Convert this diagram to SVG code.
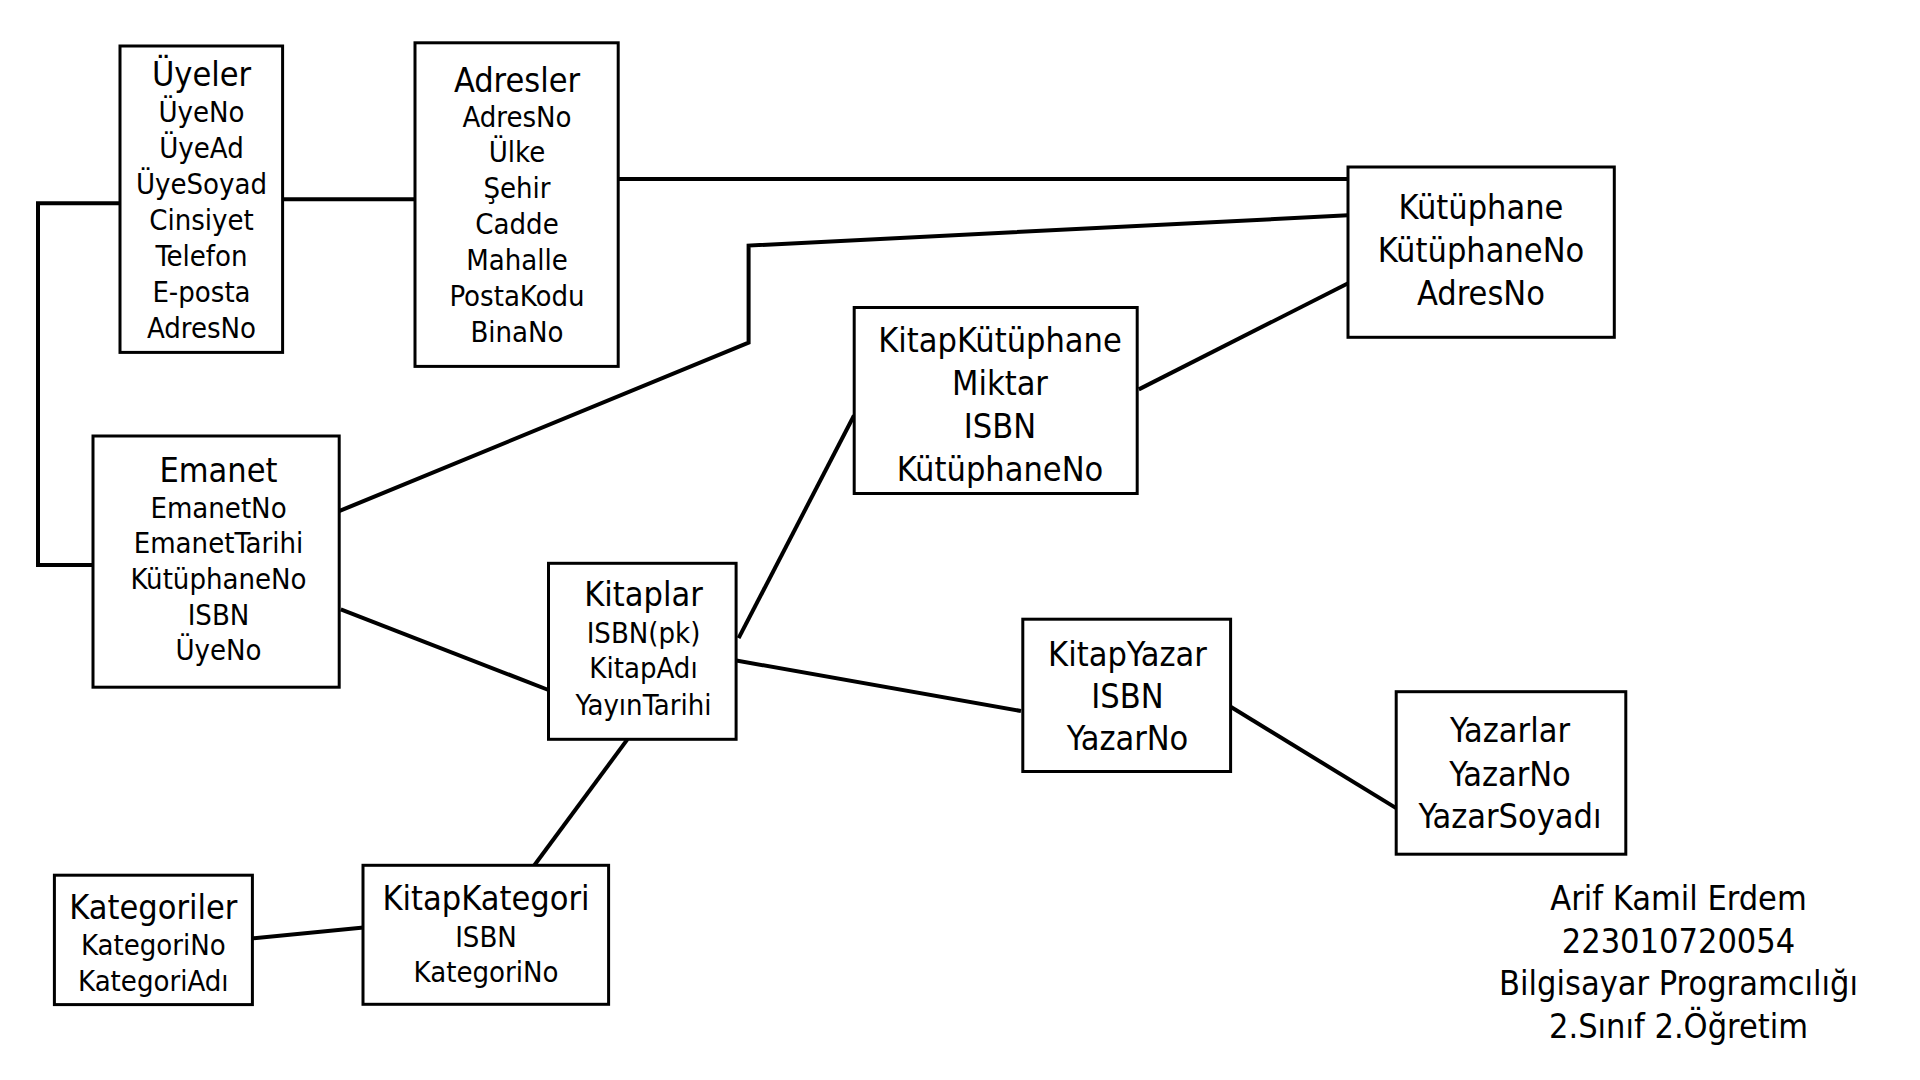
<svg xmlns="http://www.w3.org/2000/svg" width="1920" height="1080" viewBox="0 0 1920 1080">
<style>
  .box { fill: #ffffff; stroke: #000000; stroke-width: 3; }
  .conn { fill: none; stroke: #000000; stroke-width: 4; stroke-linejoin: miter; }
  text { font-family: "DejaVu Sans Condensed", "DejaVu Sans", sans-serif; font-stretch: condensed; fill: #000000; text-anchor: middle; }
  .t { font-size: 34px; }
  .a { font-size: 29px; }
</style>
<rect x="0" y="0" width="1920" height="1080" fill="#ffffff"/>
<g id="connectors">
  <polyline class="conn" points="119.6,203.3 38,203.3 38,565 93,565"/>
  <line class="conn" x1="282.6" y1="199.3" x2="415" y2="199.3"/>
  <line class="conn" x1="618" y1="179" x2="1348" y2="179"/>
  <polyline class="conn" points="337.8,511.7 748.6,342.7 748.6,245.6 1348,215.3"/>
  <line class="conn" x1="1138.8" y1="389.4" x2="1350.6" y2="282"/>
  <line class="conn" x1="340.8" y1="609.3" x2="548.5" y2="690"/>
  <line class="conn" x1="738.6" y1="638.2" x2="854" y2="415.5"/>
  <line class="conn" x1="733.5" y1="660" x2="1021" y2="711"/>
  <line class="conn" x1="1230.6" y1="706.8" x2="1396.2" y2="808.1"/>
  <line class="conn" x1="627.4" y1="739.4" x2="534" y2="865.7"/>
  <line class="conn" x1="251" y1="938.6" x2="366.2" y2="927.2"/>
</g>
<g id="uyeler">
  <rect class="box" x="120" y="46" width="162.6" height="306.4"/>
  <text class="t" x="201.5" y="86">Üyeler</text>
  <text class="a" x="201.5" y="122.3">ÜyeNo</text>
  <text class="a" x="201.5" y="157.7">ÜyeAd</text>
  <text class="a" x="201.5" y="194">ÜyeSoyad</text>
  <text class="a" x="201.5" y="230">Cinsiyet</text>
  <text class="a" x="201.5" y="266">Telefon</text>
  <text class="a" x="201.5" y="302">E-posta</text>
  <text class="a" x="201.5" y="337.7">AdresNo</text>
</g>
<g id="adresler">
  <rect class="box" x="415" y="42.8" width="203.2" height="323.6"/>
  <text class="t" x="517" y="91.7">Adresler</text>
  <text class="a" x="517" y="126.7">AdresNo</text>
  <text class="a" x="517" y="162.3">Ülke</text>
  <text class="a" x="517" y="198.3">Şehir</text>
  <text class="a" x="517" y="234.3">Cadde</text>
  <text class="a" x="517" y="270">Mahalle</text>
  <text class="a" x="517" y="306">PostaKodu</text>
  <text class="a" x="517" y="342.3">BinaNo</text>
</g>
<g id="kutuphane">
  <rect class="box" x="1348" y="167" width="266.3" height="170.3"/>
  <text class="t" x="1481" y="219.4">Kütüphane</text>
  <text class="t" x="1481" y="262.4">KütüphaneNo</text>
  <text class="t" x="1481" y="304.8">AdresNo</text>
</g>
<g id="kitapkutuphane">
  <rect class="box" x="854.2" y="307.5" width="283" height="186"/>
  <text class="t" x="1000" y="352">KitapKütüphane</text>
  <text class="t" x="1000" y="395">Miktar</text>
  <text class="t" x="1000" y="438">ISBN</text>
  <text class="t" x="1000" y="481">KütüphaneNo</text>
</g>
<g id="emanet">
  <rect class="box" x="93" y="436" width="246.2" height="251.2"/>
  <text class="t" x="218.5" y="482.3">Emanet</text>
  <text class="a" x="218.5" y="517.7">EmanetNo</text>
  <text class="a" x="218.5" y="553.3">EmanetTarihi</text>
  <text class="a" x="218.5" y="589.3">KütüphaneNo</text>
  <text class="a" x="218.5" y="625">ISBN</text>
  <text class="a" x="218.5" y="660">ÜyeNo</text>
</g>
<g id="kitaplar">
  <rect class="box" x="548.5" y="563.3" width="187.6" height="176"/>
  <text class="t" x="643.5" y="606">Kitaplar</text>
  <text class="a" x="643.5" y="642.7">ISBN(pk)</text>
  <text class="a" x="643.5" y="678.3">KitapAdı</text>
  <text class="a" x="643.5" y="715">YayınTarihi</text>
</g>
<g id="kitapyazar">
  <rect class="box" x="1022.8" y="619.2" width="207.8" height="152.3"/>
  <text class="t" x="1127.5" y="665.5">KitapYazar</text>
  <text class="t" x="1127.5" y="707.6">ISBN</text>
  <text class="t" x="1127.5" y="750">YazarNo</text>
</g>
<g id="yazarlar">
  <rect class="box" x="1396.2" y="691.7" width="229.6" height="162.5"/>
  <text class="t" x="1510" y="742.4">Yazarlar</text>
  <text class="t" x="1510" y="785.5">YazarNo</text>
  <text class="t" x="1510" y="828">YazarSoyadı</text>
</g>
<g id="kategoriler">
  <rect class="box" x="54.4" y="875.2" width="198" height="129.4"/>
  <text class="t" x="153.3" y="919">Kategoriler</text>
  <text class="a" x="153.3" y="955">KategoriNo</text>
  <text class="a" x="153.3" y="990.7">KategoriAdı</text>
</g>
<g id="kitapkategori">
  <rect class="box" x="363" y="865.3" width="245.6" height="139"/>
  <text class="t" x="486" y="910">KitapKategori</text>
  <text class="a" x="486" y="946.7">ISBN</text>
  <text class="a" x="486" y="982.3">KategoriNo</text>
</g>
<g id="signature">
  <text class="t" x="1678.5" y="909.8">Arif Kamil Erdem</text>
  <text class="t" x="1678.5" y="953">223010720054</text>
  <text class="t" x="1678.5" y="995">Bilgisayar Programcılığı</text>
  <text class="t" x="1678.5" y="1038">2.Sınıf 2.Öğretim</text>
</g>
</svg>
